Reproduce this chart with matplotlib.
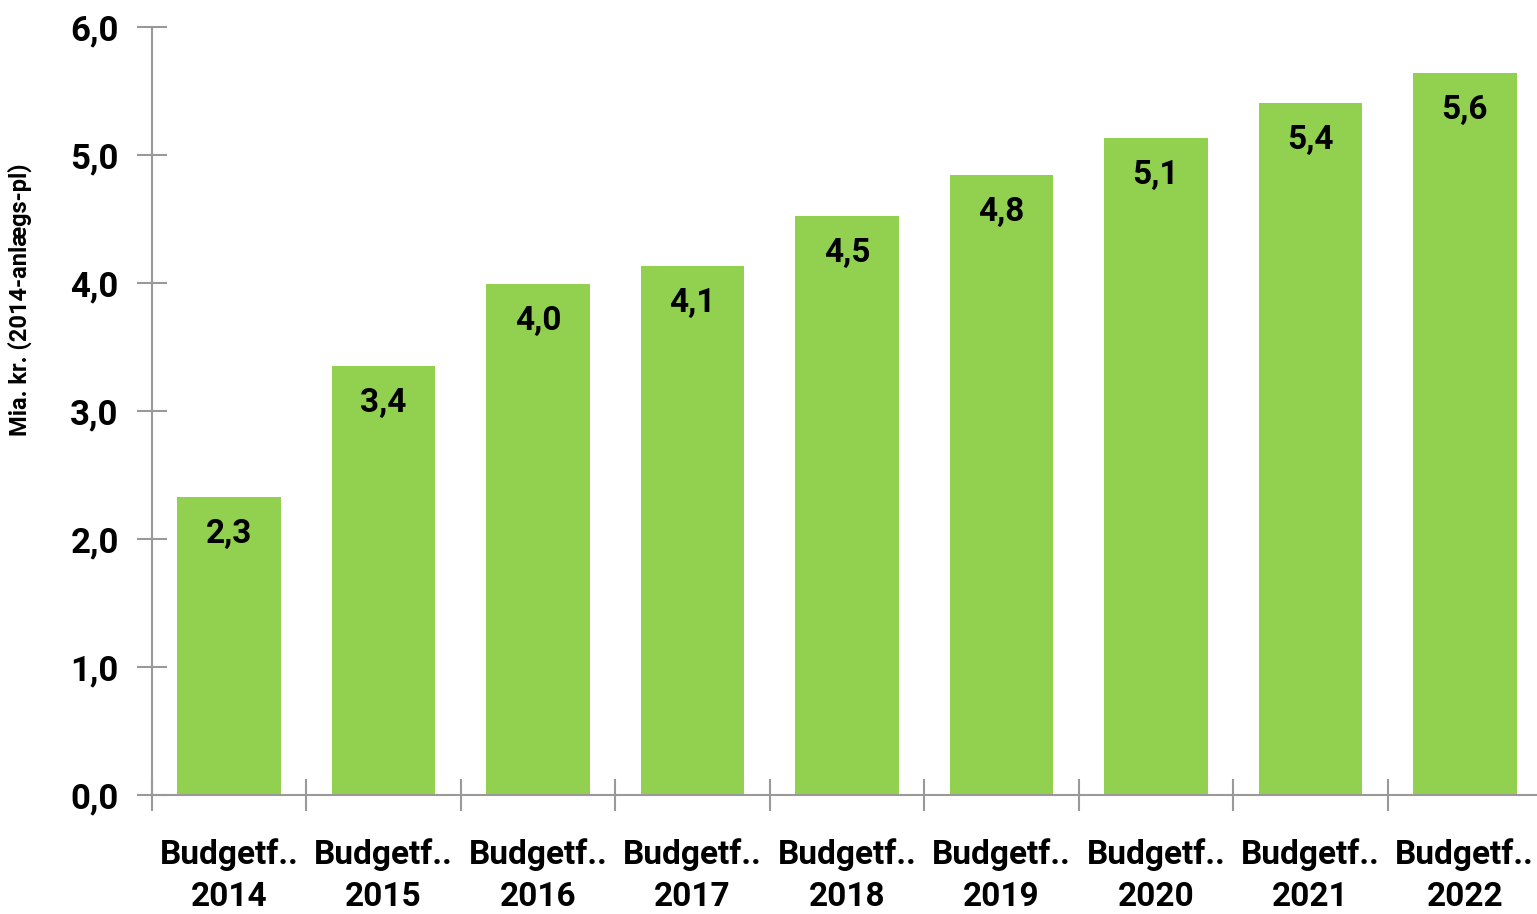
import matplotlib
matplotlib.use("Agg")
import matplotlib.pyplot as plt
from matplotlib.ticker import FixedLocator, FuncFormatter

plt.rcParams['font.family'] = ['Roboto', 'DejaVu Sans']
plt.rcParams['font.weight'] = 'bold'

years = ['2014', '2015', '2016', '2017', '2018', '2019', '2020', '2021', '2022']
values = [2.33, 3.35, 3.99, 4.13, 4.52, 4.84, 5.13, 5.41, 5.64]
bar_color = '#92D050'
axis_color = '#999999'

fig = plt.figure(figsize=(15.37, 9.14), dpi=100)
# axes in figure fractions (pixel layout)
left = 152 / 1537
bottom = (914 - 795) / 914
width = (1542 - 152) / 1537
height = (795 - 27) / 914
ax = fig.add_axes([left, bottom, width, height])

x = list(range(len(years)))
bars = ax.bar(x, values, width=0.67, color=bar_color, zorder=2)

for xi, v in zip(x, values):
    ax.annotate(f"{v:.1f}".replace('.', ','), (xi, v), xytext=(0, -37),
                textcoords='offset pixels', ha='center', va='center',
                fontsize=24, fontweight='bold', color='black')

ax.set_xlim(-0.5, len(years) - 0.5)
ax.set_ylim(0, 6)
ax.yaxis.set_major_locator(FixedLocator([0, 1, 2, 3, 4, 5, 6]))
ax.yaxis.set_major_formatter(FuncFormatter(lambda v, p: f"{v:.1f}".replace('.', ',')))

ax.set_xticks([i - 0.5 for i in range(len(years) + 1)])
ax.set_xticklabels([])
ax.set_xticks(x, minor=True)
ax.set_xticklabels(['Budgetf..\n' + y for y in years], minor=True,
                   fontsize=24, fontweight='bold', linespacing=1.42)
ax.tick_params(axis='x', which='minor', length=0, pad=31)
ax.tick_params(axis='x', which='major', direction='inout', length=23,
               width=1.5, color=axis_color)
ax.tick_params(axis='y', direction='inout', length=22, width=1.5,
               color=axis_color, labelsize=25, pad=13)

for side in ['top', 'right']:
    ax.spines[side].set_visible(False)
for side in ['left', 'bottom']:
    ax.spines[side].set_color(axis_color)
    ax.spines[side].set_linewidth(1.5)

ax.set_ylabel('Mia. kr. (2014-anlægs-pl)', fontsize=17, fontweight='bold')
ax.yaxis.set_label_coords(-0.086, 0.645)

fig.savefig('out.png', dpi=100)
